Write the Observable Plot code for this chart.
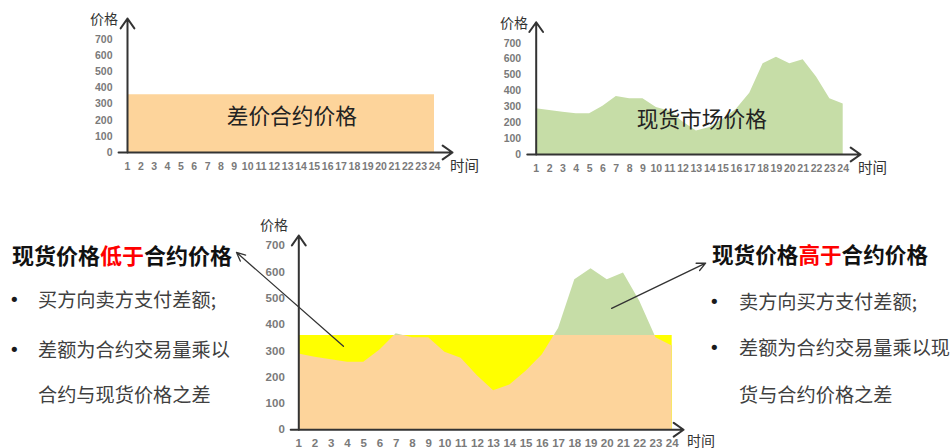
<!DOCTYPE html>
<html><head><meta charset="utf-8">
<script src="https://cdn.jsdelivr.net/npm/d3@7"></script>
<script src="https://cdn.jsdelivr.net/npm/@observablehq/plot@0.6"></script>
<style>
body{margin:0;background:#fff;overflow:hidden}
#wrap{position:relative;width:950px;height:448px;overflow:hidden;font-family:"Noto Sans CJK SC","Noto Sans",sans-serif;background:#fff}
#wrap svg{position:absolute}
.abs{position:absolute;white-space:nowrap;line-height:1}
</style></head><body><div id="wrap"></div>
<script>
// ---- data ----
const hours = [1,2,3,4,5,6,7,8,9,10,11,12,13,14,15,16,17,18,19,20,21,22,23,24];
const yTicks = [0,100,200,300,400,500,600,700];
const spotPrice = [288,276,266,257,257,303,365,350,350,295,272,205,148,170,222,285,385,570,612,570,596,488,350,318];
const contractPrice = 358;
const spot = hours.map((h,i)=>({hour:h, price:spotPrice[i]}));

// annotation arrows (bottom chart, in data units)
const noteArrows = [
  {x1:3.75, y1:317, x2:-2.84, y2:674},
  {x1:20.27, y1:461, x2:26.06, y2:633}
];

const C_ORANGE = "#FDD49B", C_GREEN = "#C6DDA7", C_YELLOW = "#FFFF00", C_AXIS = "#333";
const NUM_FONT = "Liberation Sans, Arial, sans-serif";

function axisMarks(o){
  return [
    Plot.arrow([{x1:o.xStart,y1:0,x2:o.xEnd,y2:0}],{x1:"x1",y1:"y1",x2:"x2",y2:"y2",stroke:C_AXIS,strokeWidth:2,headLength:9,headAngle:70}),
    Plot.arrow([{x1:1,y1:0,x2:1,y2:o.yTop}],{x1:"x1",y1:"y1",x2:"x2",y2:"y2",stroke:C_AXIS,strokeWidth:2,headLength:9,headAngle:70}),
    Plot.text(hours,{x:d=>d,y:0,dy:o.xDy,text:d=>String(d),fontSize:o.fs,fontWeight:"bold",fill:"#7a7a7a",fontFamily:NUM_FONT}),
    Plot.text(yTicks,{x:1,y:d=>d,dx:-o.yDx,text:d=>String(d),textAnchor:"end",fontSize:o.fs,fontWeight:"bold",fill:"#7a7a7a",fontFamily:NUM_FONT})
  ];
}

function place(svg, left, top){
  svg.style.left = left+"px"; svg.style.top = top+"px";
  document.getElementById("wrap").appendChild(svg);
}

// ---- top-left: contract price ----
place(Plot.plot({
  width:420, height:180, marginLeft:47, marginRight:66, marginTop:39, marginBottom:28,
  x:{type:"linear", domain:[1,24], axis:null},
  y:{domain:[0,700], axis:null},
  style:{background:"transparent", overflow:"visible"},
  marks:[
    Plot.areaY(hours,{x:d=>d, y:()=>contractPrice, fill:C_ORANGE}),
    ...axisMarks({xStart:0.33, xEnd:25.35, yTop:830, xDy:14, yDx:15, fs:10.5})
  ]
}), 80, 0);

// ---- top-right: spot price ----
place(Plot.plot({
  width:420, height:180, marginLeft:45.7, marginRight:67.3, marginTop:42.7, marginBottom:26,
  x:{type:"linear", domain:[1,24], axis:null},
  y:{domain:[0,700], axis:null},
  style:{background:"transparent", overflow:"visible"},
  marks:[
    Plot.areaY(spot,{x:"hour", y:"price", fill:C_GREEN}),
    ...axisMarks({xStart:0.33, xEnd:25.3, yTop:832, xDy:14, yDx:15, fs:10.5})
  ]
}), 490, 0);

// ---- bottom: combined ----
const bY0 = 229.3, bY700 = 45;
const bContractPx = bY0 - contractPrice/700*(bY0-bY700);
place(Plot.plot({
  width:950, height:248, marginLeft:298.3, marginRight:278.3,
  marginTop:bContractPx, marginBottom:248-bY0,
  x:{type:"linear", domain:[1,24], axis:null},
  y:{domain:[0,700], range:[bY0,bY700], axis:null},
  style:{background:"transparent", overflow:"visible"},
  marks:[
    Plot.areaY(spot,{x:"hour", y:"price", fill:C_GREEN}),
    Plot.areaY(hours,{x:d=>d, y:()=>contractPrice, fill:C_YELLOW}),
    Plot.areaY(spot,{x:"hour", y:"price", fill:C_ORANGE, clip:true}),
    ...axisMarks({xStart:0.5, xEnd:24.7, yTop:738, xDy:13.5, yDx:14, fs:11.5}),
    Plot.arrow(noteArrows,{x1:"x1",y1:"y1",x2:"x2",y2:"y2",stroke:"#333",strokeWidth:1.3,headLength:11,headAngle:50})
  ]
}), 0, 200);

// ---- texts ----
const wrap = document.getElementById("wrap");
function txt(html, left, cy, size, extra){
  const d = document.createElement("div");
  d.className = "abs";
  d.innerHTML = html;
  d.style.left = left+"px";
  d.style.top = (cy - size/2)+"px";
  d.style.fontSize = size+"px";
  d.style.height = size+"px";
  Object.assign(d.style, extra||{});
  wrap.appendChild(d);
}
const lab = {color:"#333"};
txt("价格", 90, 18, 14, lab);
txt("时间", 450, 165, 14.5, lab);
txt("价格", 500, 21.7, 14, lab);
txt("时间", 858, 167, 14.5, lab);
txt("价格", 260, 224, 14, lab);
txt("时间", 687, 439.5, 14, lab);

txt("差价合约价格", 226.7, 115, 21.7, {color:"#222"});
txt("现货市场价格", 636.7, 118, 21.7, {color:"#222"});

const titleStyle = {color:"#111", fontWeight:"bold"};
txt('现货价格<span style="color:#ff0000">低于</span>合约价格', 12, 254, 22, titleStyle);
txt('现货价格<span style="color:#ff0000">高于</span>合约价格', 712, 254, 21.6, titleStyle);

const body = {color:"#404040"};
const dot = {color:"#1a1a1a", fontFamily:"DejaVu Sans, sans-serif"};
txt("•", 9, 300, 18, dot);
txt("买方向卖方支付差额;", 38, 300, 19.2, body);
txt("•", 9, 350, 18, dot);
txt("差额为合约交易量乘以", 38, 350, 19.2, body);
txt("合约与现货价格之差", 38, 395, 19.2, body);

txt("•", 709, 302, 18, dot);
txt("卖方向买方支付差额;", 739, 302, 19.2, body);
txt("•", 709, 348, 18, dot);
txt("差额为合约交易量乘以现", 739, 348, 19.2, body);
txt("货与合约价格之差", 739, 395, 19.2, body);
</script></body></html>
